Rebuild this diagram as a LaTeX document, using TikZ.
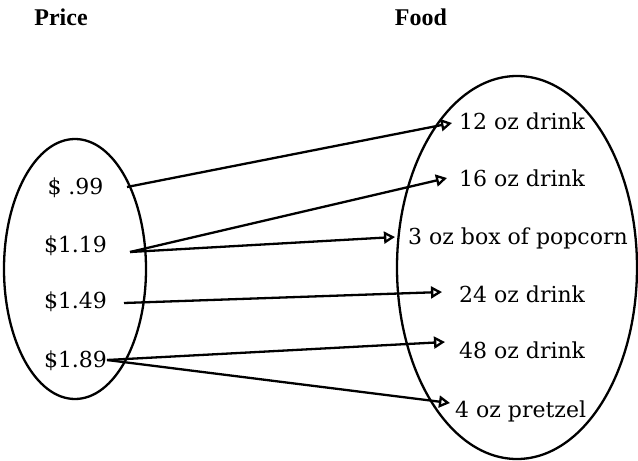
\documentclass[tikz,border=0pt]{standalone}
\usepackage{fontspec}
\setmainfont{DejaVu Serif}
\newfontfamily\headfont{Liberation Serif}
\usetikzlibrary{arrows.meta,calc,shapes.geometric}

\begin{document}
\begin{tikzpicture}[x=0.5pt,y=-0.5pt,line width=1.15pt,
  label/.style={inner sep=0pt,font=\fontsize{11}{13}\selectfont},
  head/.style={inner sep=0pt,anchor=base,font=\headfont\bfseries\fontsize{12}{14}\selectfont},
  set/.style={draw,ellipse,inner sep=0pt},
  maps/.style={-{Triangle[open,length=5.5pt,width=6pt]}}]
\useasboundingbox (0,0) rectangle (638,461);
\node[head] (price) at (61,25) {Price};
\node[head] (food) at (421,25) {Food};
\node[set,minimum width=71pt,minimum height=130pt] (dom) at (75,269) {};
\node[set,minimum width=120pt,minimum height=191.5pt] (rng) at (517,267.5) {};
% prices
\node[label,anchor=base] (p1) at (75.5,194) {\$ .99};
\node[label,anchor=base] (p2) at (75.5,252) {\$1.19};
\node[label,anchor=base] (p3) at (75.5,308) {\$1.49};
\node[label,anchor=base] (p4) at (75.5,367) {\$1.89};
% food
\node[label,anchor=base west] (f1) at (458,129) {12 oz drink};
\node[label,anchor=base west] (f2) at (458,186) {16 oz drink};
\node[label,anchor=base west] (f3) at (407,244) {3 oz box of popcorn};
\node[label,anchor=base west] (f4) at (458,302) {24 oz drink};
\node[label,anchor=base west] (f5) at (458,358) {48 oz drink};
\node[label,anchor=base west] (f6) at (454,417) {4 oz pretzel};
% pairs
\draw[maps] ($(p1.base)+(51.5,-7)$) -- ($(f1.base west)+(-6,-6)$);
\draw[maps] ($(p2.base)+(54.5,0)$) -- ($(f2.base west)+(-11,-8)$);
\draw[maps] ($(p2.base)+(54.5,0)$) -- ($(f3.base west)+(-12,-7)$);
\draw[maps] ($(p3.base)+(48.5,-5)$) -- ($(f4.base west)+(-16,-10)$);
\draw[maps] ($(p4.base)+(31.5,-7)$) -- ($(f5.base west)+(-13,-16)$);
\draw[maps] ($(p4.base)+(31.5,-7)$) -- ($(f6.base west)+(-4,-14)$);
\end{tikzpicture}
\end{document}
